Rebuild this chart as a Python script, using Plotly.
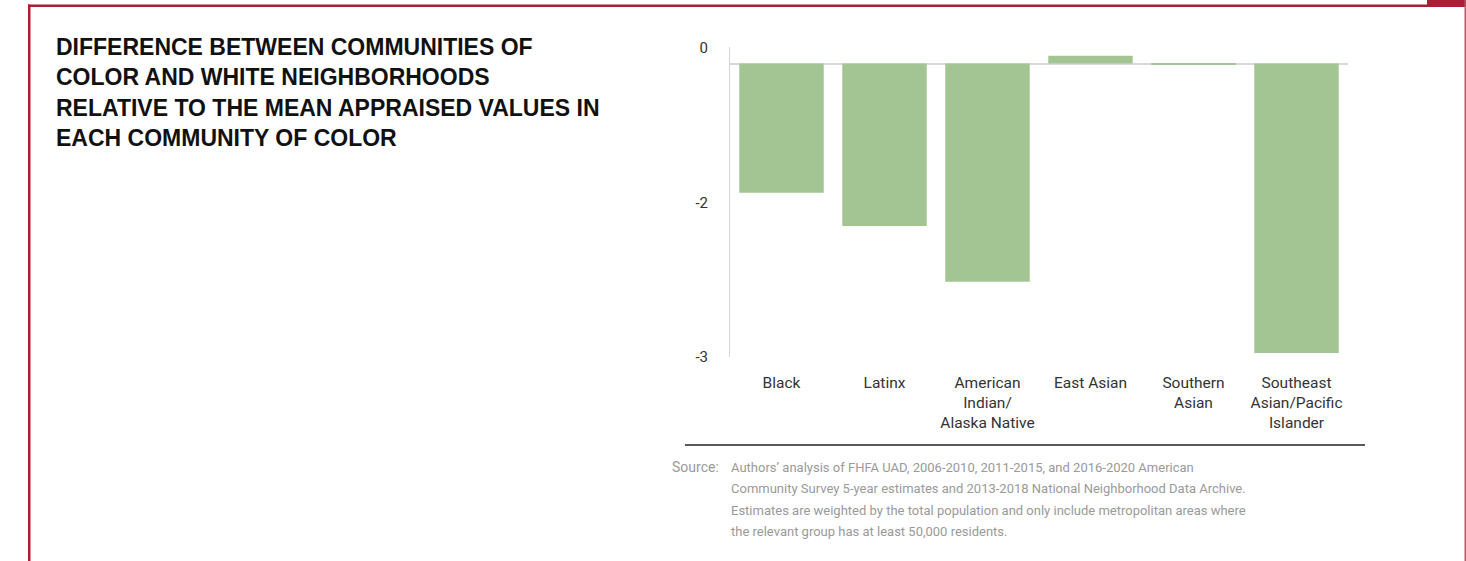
import plotly.graph_objects as go

# ---- data ----
categories = ["Black", "Latinx", "American<br>Indian/<br>Alaska Native", "East Asian",
              "Southern<br>Asian", "Southeast<br>Asian/Pacific<br>Islander"]
values = [-1.32, -1.66, -2.23, 0.08, -0.01, -2.96]
tick_vals = [0.165, -1.42, -3.0]
tick_text = ["0", "-2", "-3"]

title_lines = ["DIFFERENCE BETWEEN COMMUNITIES OF",
               "COLOR AND WHITE NEIGHBORHOODS",
               "RELATIVE TO THE MEAN APPRAISED VALUES IN",
               "EACH COMMUNITY OF COLOR"]
source_label = "Source:"
source_lines = ["Authors\u2019 analysis of FHFA UAD, 2006-2010, 2011-2015, and 2016-2020 American",
                "Community Survey 5-year estimates and 2013-2018 National Neighborhood Data Archive.",
                "Estimates are weighted by the total population and only include metropolitan areas where",
                "the relevant group has at least 50,000 residents."]

W, H = 1466, 561
L, R, T, B = 730, 1348, 47, 357   # window coordinates of plot area


def px(x):
    return (x - L) / (R - L)


def py(y):
    return (B - y) / (B - T)


fig = go.Figure(go.Bar(x=categories, y=values, marker_color="#a3c593",
                       marker_line_width=0, hoverinfo="x+y"))

red = "#b01c33"
shapes = [
    dict(type="rect", xref="paper", yref="paper", x0=px(28), x1=px(1466), y0=py(4.5), y1=py(7),
         fillcolor=red, line_width=0, layer="above"),
    dict(type="rect", xref="paper", yref="paper", x0=px(28), x1=px(30.5), y0=py(4.5), y1=py(561),
         fillcolor=red, line_width=0, layer="above"),
    dict(type="rect", xref="paper", yref="paper", x0=px(1427), x1=px(1466), y0=py(0), y1=py(7),
         fillcolor=red, line_width=0, layer="above"),
    dict(type="rect", xref="paper", yref="paper", x0=px(1464.5), x1=px(1466), y0=py(0), y1=py(561),
         fillcolor="#b55a6a", line_width=0, layer="above"),
    dict(type="line", xref="paper", yref="paper", x0=px(685), x1=px(1365), y0=py(445), y1=py(445),
         line=dict(color="#5a5a5a", width=2)),
]

annotations = []
for i, t in enumerate(title_lines):
    annotations.append(dict(text=t, xref="paper", yref="paper", x=px(54), y=py(47 + i * 30.3),
                            xanchor="left", yanchor="middle", showarrow=False,
                            font=dict(family="Liberation Sans", size=23, color="#111111",
                                      weight="bold")))
annotations.append(dict(text=source_label, xref="paper", yref="paper", x=px(670), y=py(467),
                        xanchor="left", yanchor="middle", showarrow=False,
                        font=dict(family="Roboto", size=14, color="#9a9a9a")))
for i, t in enumerate(source_lines):
    annotations.append(dict(text=t, xref="paper", yref="paper", x=px(729), y=py(467 + i * 21.6),
                            xanchor="left", yanchor="middle", showarrow=False,
                            font=dict(family="Roboto", size=13, color="#9a9a9a")))

fig.update_layout(
    width=W, height=H,
    margin=dict(l=L, r=W - R, t=T, b=H - B, pad=0),
    paper_bgcolor="white", plot_bgcolor="white",
    bargap=0.18,
    showlegend=False,
    font=dict(family="Roboto", color="#333333"),
    xaxis=dict(showline=False, showgrid=False, ticks="", ticklabelstandoff=14,
               tickfont=dict(size=15.5, color="#333333")),
    yaxis=dict(range=[-3.0, 0.17], showline=True, linecolor="#d6d6d6", linewidth=1,
               showgrid=False, zeroline=True, zerolinecolor="#d9d9d9", zerolinewidth=2,
               tickvals=tick_vals, ticktext=tick_text, ticks="", ticklabelstandoff=18,
               tickfont=dict(size=15, color="#333333")),
    shapes=shapes,
    annotations=annotations,
)

fig.write_html("out.html", config={"displayModeBar": False},
               post_script="document.body.style.margin='0';")
